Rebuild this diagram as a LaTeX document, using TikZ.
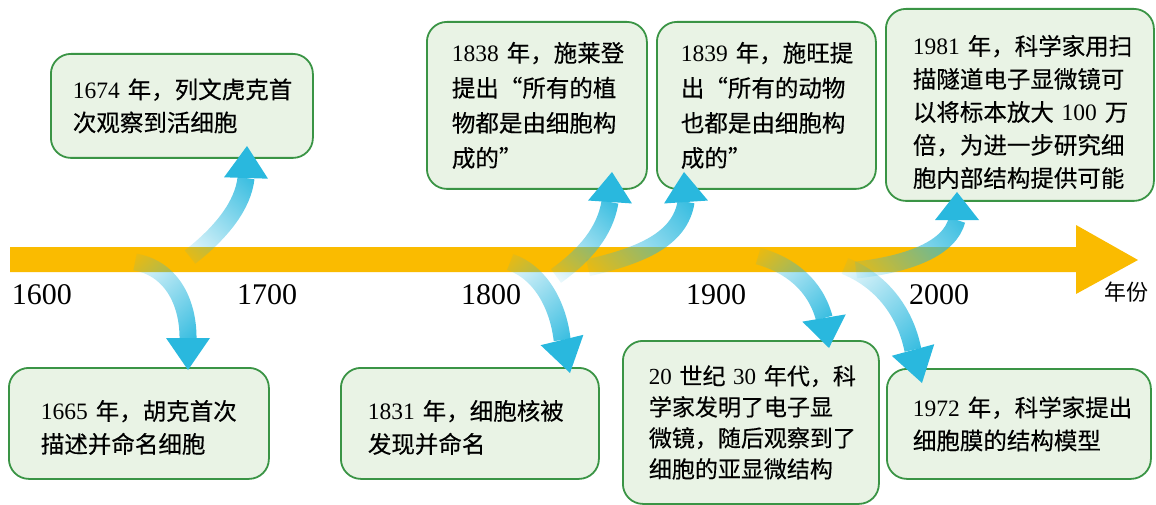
\documentclass[tikz,border=0pt]{standalone}
\usepackage{fontspec}
\setmainfont{Liberation Serif}
\newfontfamily\cjk[FakeBold=0.3]{Noto Sans CJK SC}
\newfontfamily\cjkplain{Noto Sans CJK SC}
\usetikzlibrary{calc,fadings}
\definecolor{boxfill}{RGB}{233,243,229}
\definecolor{boxline}{RGB}{58,148,69}
\definecolor{axiscol}{RGB}{250,187,0}
\definecolor{arr}{RGB}{41,184,222}
\newcommand\zh[1]{{\cjk #1}}
\begin{tikzfadingfrompicture}[name=tailfade]
  \fill[transparent!100] (-500bp,-500bp) rectangle (-35bp,500bp);
  \shade[left color=transparent!100, right color=transparent!0] (-35bp,-500bp) rectangle (35bp,500bp);
  \fill[transparent!0] (35bp,-500bp) rectangle (500bp,500bp);
\end{tikzfadingfrompicture}
\begin{document}
\begin{tikzpicture}[x=1pt,y=-1pt,
  event/.style={draw=boxline, line width=1.8pt, fill=boxfill, rounded corners=20pt,
    anchor=north west, align=left, inner ysep=0pt, font=\fontsize{23.5}{33}\selectfont},
  yearlbl/.style={font=\fontsize{30}{30}\selectfont, inner sep=0pt},
  body/.style={draw=arr, line width=17pt, line cap=butt, path fading=tailfade},
  head/.style={fill=arr, draw=none}]
\useasboundingbox (0,0) rectangle (1156,505);

% time axis
\fill[axiscol] (10,247) -- (1076,247) -- (1076,225) -- (1138,260) -- (1076,294)
  -- (1076,272) -- (10,272) -- cycle;

\node[yearlbl] (y1600) at (42,295) {1600};
\node[yearlbl] (y1700) at (267,295) {1700};
\node[yearlbl] (y1800) at (491,295) {1800};
\node[yearlbl] (y1900) at (716,295) {1900};
\node[yearlbl] (y2000) at (939,295) {2000};
\node[font=\cjkplain\fontsize{22}{22}\selectfont, inner sep=0pt] (unit) at (1126,292) {年份};

% event boxes
\node[event, text width=218pt, inner xsep=22pt, minimum height=104pt] (e1674) at (50,53)
  {1674~\zh{年，列文虎克首}\\ \zh{次观察到活细胞}};
\node[event, text width=170pt, inner xsep=25pt, minimum height=167pt, font=\fontsize{23.5}{35}\selectfont] (e1838) at (426,21)
  {1838~\zh{年，施莱登}\\ \zh{提出“所有的植}\\ \zh{物都是由细胞构}\\ \zh{成的”}};
\node[event, text width=171pt, inner xsep=24pt, minimum height=167pt, font=\fontsize{23.5}{35}\selectfont] (e1839) at (656,21)
  {1839~\zh{年，施旺提}\\ \zh{出“所有的动物}\\ \zh{也都是由细胞构}\\ \zh{成的”}};
\node[event, text width=230pt, inner xsep=19pt, minimum height=192pt] (e1981) at (885,8)
  {\rule{0pt}{34pt}\hspace*{8pt}1981~\zh{年，科学家用扫}\\ \hspace*{8pt}\zh{描隧道电子显微镜可}\\ \hspace*{8pt}\zh{以将标本放大}~100~\zh{万}\\ \hspace*{8pt}\zh{倍，为进一步研究细}\\ \hspace*{8pt}\zh{胞内部结构提供可能}};
\node[event, text width=220pt, inner xsep=20pt, minimum height=111pt] (e1665) at (8,367)
  {\rule{0pt}{28pt}\hspace*{12pt}1665~\zh{年，胡克首次}\\ \hspace*{12pt}\zh{描述并命名细胞}};
\node[event, text width=220pt, inner xsep=19pt, minimum height=111pt] (e1831) at (340,367)
  {\rule{0pt}{28pt}\hspace*{8pt}1831~\zh{年，细胞核被}\\ \hspace*{8pt}\zh{发现并命名}};
\node[event, text width=220pt, inner xsep=18pt, minimum height=163pt, font=\fontsize{23}{31}\selectfont] (e1930) at (622,340)
  {\hspace*{8pt}20~\zh{世纪}~30~\zh{年代，科}\\ \hspace*{8pt}\zh{学家发明了电子显}\\ \hspace*{8pt}\zh{微镜，随后观察到了}\\ \hspace*{8pt}\zh{细胞的亚显微结构}};
\node[event, text width=230pt, inner xsep=17pt, minimum height=110pt] (e1972) at (886,368)
  {\hspace*{9pt}1972~\zh{年，科学家提出}\\ \hspace*{9pt}\zh{细胞膜的结构模型}};

% arrow coordinates: tail, control 1, control 2, head base, tip
\coordinate (t1) at (135,262); \coordinate (a1) at (170,268); \coordinate (b1) at (188,300); \coordinate (h1) at (188,338); \coordinate (p1) at (188,370);
\coordinate (t2) at (190,257); \coordinate (a2) at (222,232); \coordinate (b2) at (243,205); \coordinate (h2) at (246,178); \coordinate (p2) at (247,146);
\coordinate (t3) at (510,262); \coordinate (a3) at (540,272); \coordinate (b3) at (558,305); \coordinate (h3) at (562,340); \coordinate (p3) at (570,373);
\coordinate (t4) at (556,276); \coordinate (a4) at (585,255); \coordinate (b4) at (605,232); \coordinate (h4) at (610,202); \coordinate (p4) at (612,172);
\coordinate (t5) at (588,268); \coordinate (a5) at (640,256); \coordinate (b5) at (680,240); \coordinate (h5) at (686,202); \coordinate (p5) at (684,172);
\coordinate (t6) at (758,256); \coordinate (a6) at (790,265); \coordinate (b6) at (815,285); \coordinate (h6) at (824,318); \coordinate (p6) at (829,348);
\coordinate (t7) at (845,266); \coordinate (a7) at (880,280); \coordinate (b7) at (905,310); \coordinate (h7) at (913,350); \coordinate (p7) at (922,383);
\coordinate (t8) at (856,270); \coordinate (a8) at (910,264); \coordinate (b8) at (950,248); \coordinate (h8) at (957,220); \coordinate (p8) at (957,192);

\foreach \i/\ang in {1/-55,2/55,3/-57,4/54,5/34,6/-45,7/-52,8/26}{
  \draw[body, fading angle=\ang] (t\i) .. controls (a\i) and (b\i) .. (h\i);
  \fill[head] ($(h\i)!22pt!90:(p\i)$) -- (p\i) -- ($(h\i)!22pt!-90:(p\i)$) -- cycle;
}
\end{tikzpicture}
\end{document}
